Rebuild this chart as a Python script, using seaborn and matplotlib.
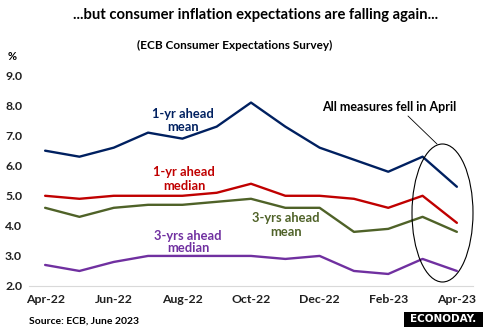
import matplotlib
matplotlib.use("Agg")
import matplotlib.pyplot as plt
from matplotlib.patches import Ellipse, Rectangle
import seaborn as sns
import pandas as pd
import numpy as np

months = ["Apr-22", "May-22", "Jun-22", "Jul-22", "Aug-22", "Sep-22", "Oct-22",
          "Nov-22", "Dec-22", "Jan-23", "Feb-23", "Mar-23", "Apr-23"]
one_yr_mean = [6.5, 6.3, 6.6, 7.1, 6.9, 7.3, 8.1, 7.3, 6.6, 6.2, 5.8, 6.3, 5.3]
one_yr_median = [5.0, 4.9, 5.0, 5.0, 5.0, 5.1, 5.4, 5.0, 5.0, 4.9, 4.6, 5.0, 4.1]
three_yr_mean = [4.6, 4.3, 4.6, 4.7, 4.7, 4.8, 4.9, 4.6, 4.6, 3.8, 3.9, 4.3, 3.8]
three_yr_median = [2.7, 2.5, 2.8, 3.0, 3.0, 3.0, 3.0, 2.9, 3.0, 2.5, 2.4, 2.9, 2.5]
series_names = ["1-yr ahead mean", "1-yr ahead median", "3-yrs ahead mean", "3-yrs ahead median"]
tick_labels = ["Apr-22", "Jun-22", "Aug-22", "Oct-22", "Dec-22", "Feb-23", "Apr-23"]
yticks = [2.0, 3.0, 4.0, 5.0, 6.0, 7.0, 8.0, 9.0]

colors = {"1-yr ahead mean": "#002060", "1-yr ahead median": "#C00000",
          "3-yrs ahead mean": "#4F6228", "3-yrs ahead median": "#7030A0"}

sns.set_theme(style="white")
plt.rcParams['font.family'] = ['Lato', 'DejaVu Sans']
plt.rcParams['font.weight'] = 'bold'

rows = []
for name, vals in zip(series_names, [one_yr_mean, one_yr_median, three_yr_mean, three_yr_median]):
    for i, (m, v) in enumerate(zip(months, vals)):
        rows.append({"idx": i, "month": m, "value": v, "series": name})
df = pd.DataFrame(rows)

fig = plt.figure(figsize=(4.86, 3.27), dpi=100)
ax = fig.add_axes([29/486, 1-286/327, (473-29)/486, (286-75.5)/327])

sns.lineplot(data=df, x="idx", y="value", hue="series", palette=colors,
             linewidth=1.7, legend=False, ax=ax, sort=False)

ax.set_xlim(-0.47, 12.47)
ax.set_ylim(2.0, 9.0)
ax.set_xticks([months.index(t) for t in tick_labels])
ax.set_xticklabels(tick_labels, fontsize=8.8, fontweight='bold', color='#202020')
ax.set_yticks(yticks)
ax.set_yticklabels([f"{v:.1f}" for v in yticks], fontsize=8.8, fontweight='bold', color='#202020')
ax.tick_params(axis='x', length=0, pad=6)
ax.tick_params(axis='y', length=0, pad=5)
ax.set_xlabel("")
ax.set_ylabel("")
for s in ["top", "right", "left"]:
    ax.spines[s].set_visible(False)
ax.spines["bottom"].set_color("#D9D9D9")
ax.spines["bottom"].set_linewidth(0.8)
ax.grid(False)

def px(x, y):
    return (x/486, 1-y/327)

fs = 9.3
fig.text(*px(183, 121), "1-yr ahead\nmean", color="#002060", fontsize=fs, fontweight='bold',
         ha='center', va='center', linespacing=1.1)
fig.text(*px(184, 179), "1-yr ahead\nmedian", color="#C00000", fontsize=fs, fontweight='bold',
         ha='center', va='center', linespacing=1.1)
fig.text(*px(286, 225), "3-yrs ahead\nmean", color="#4F6228", fontsize=fs, fontweight='bold',
         ha='center', va='center', linespacing=1.1)
fig.text(*px(188, 242), "3-yrs ahead\nmedian", color="#7030A0", fontsize=fs, fontweight='bold',
         ha='center', va='center', linespacing=1.1)
fig.text(*px(389, 107), "All measures fell in April", color="black", fontsize=9, fontweight='bold',
         ha='center', va='center')

ell = Ellipse(px(442.5, 213), 61/486, 138/327, transform=fig.transFigure,
              fill=False, edgecolor='black', linewidth=0.8)
fig.add_artist(ell)
fig.add_artist(plt.Line2D([408/486, 437/486], [1-116/327, 1-144/327],
                          transform=fig.transFigure, color='black', linewidth=0.6))

fig.text(*px(256, 15), "...but consumer inflation expectations are falling again...",
         fontsize=10.6, fontweight='bold', ha='center', va='center', color='black')
fig.text(*px(235, 45), "(ECB Consumer Expectations Survey)",
         fontsize=8.5, fontweight='bold', ha='center', va='center', color='black')
fig.text(*px(8, 57), "%", fontsize=8, fontweight='bold', ha='left', va='center', color='black')
fig.text(*px(29, 321), "Source: ECB, June 2023", fontsize=7.5, fontweight='bold',
         ha='left', va='center', color='black')

fig.add_artist(Rectangle((404/486, 0), (483-404)/486, 15/327,
                         transform=fig.transFigure, facecolor='black', edgecolor='none'))
fig.text(*px(443.5, 319.5), "ECONODAY.", fontsize=7.5, fontweight='bold', color='white',
         ha='center', va='center', family=['DejaVu Sans'])

fig.savefig("out.png", dpi=100)
